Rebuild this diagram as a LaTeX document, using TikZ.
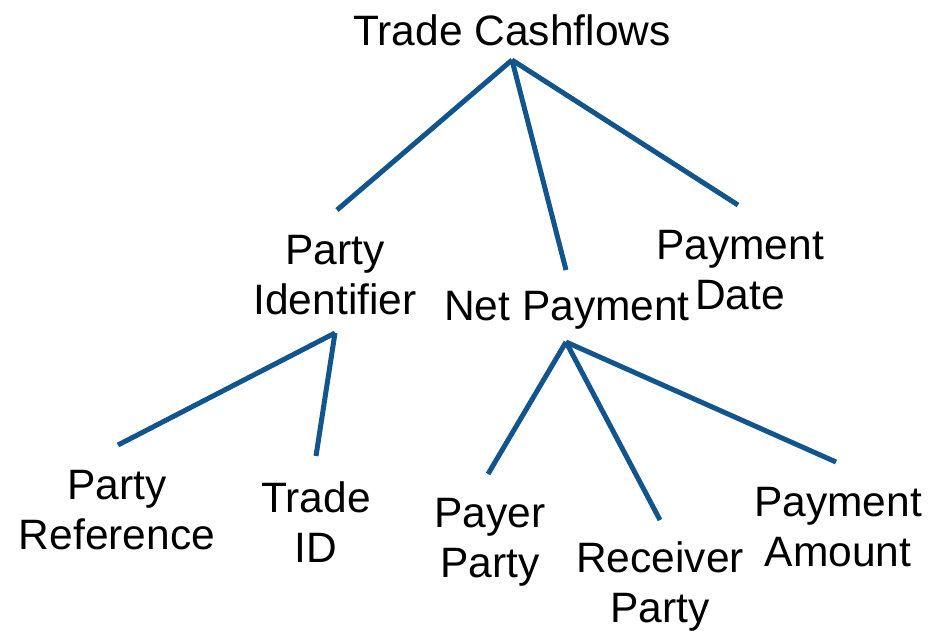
\documentclass[tikz,border=0pt]{standalone}
\usepackage{fontspec}
\setmainfont{Liberation Sans}
\definecolor{treeblue}{RGB}{18,84,140}
\begin{document}
\begin{tikzpicture}[x=1pt,y=-1pt,
  lbl/.style={inner sep=0pt,align=center,font=\fontsize{42.5}{50}\selectfont},
  edge/.style={draw=treeblue,line width=5pt}]
\useasboundingbox (0,0) rectangle (947,630);
\node[lbl] (root) at (512,30) {Trade Cashflows};
\node[lbl] (pid) at (335,275) {Party\\Identifier};
\node[lbl] (net) at (567,310) {Net Payment};
\node[lbl] (pdate) at (740,270) {Payment\\Date};
\node[lbl] (pref) at (117,510) {Party\\Reference};
\node[lbl] (tid) at (316,522) {Trade\\ID};
\node[lbl] (payer) at (490,542) {Payer\\Party};
\node[lbl] (recv) at (660,586) {Receiver\\Party};
\node[lbl] (pamt) at (838,527) {Payment\\Amount};
\coordinate (rootb) at (512,60);
\coordinate (pidt) at (337,210);
\coordinate (nett) at (566,270);
\coordinate (pdatet) at (738,205);
\coordinate (pidb) at (335,333);
\coordinate (preft) at (118,445);
\coordinate (tidt) at (316,456);
\coordinate (netb) at (566,342);
\coordinate (payert) at (488,474);
\coordinate (recvt) at (660,520);
\coordinate (pamtt) at (836,462);
\draw[edge] (rootb) -- (pidt);
\draw[edge] (rootb) -- (nett);
\draw[edge] (rootb) -- (pdatet);
\draw[edge] (pidb) -- (preft);
\draw[edge] (pidb) -- (tidt);
\draw[edge] (netb) -- (payert);
\draw[edge] (netb) -- (recvt);
\draw[edge] (netb) -- (pamtt);
\end{tikzpicture}
\end{document}
